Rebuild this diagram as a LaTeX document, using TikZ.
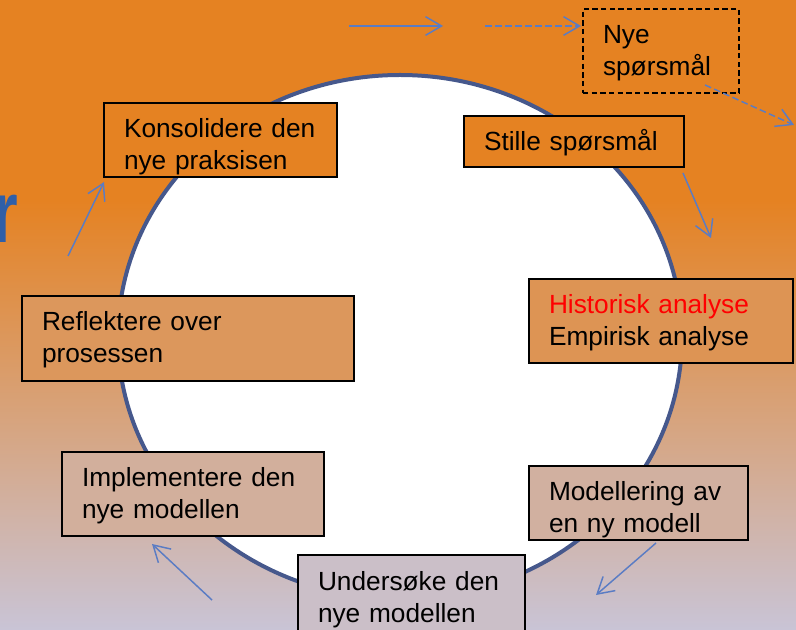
\documentclass[tikz,border=0pt]{standalone}
\usepackage{fontspec}
\usepackage{graphicx}
\setmainfont{Liberation Sans}
\usetikzlibrary{arrows.meta}

\definecolor{bgorange}{RGB}{229,130,34}
\definecolor{bglilac}{RGB}{201,196,214}
\definecolor{ringblue}{RGB}{70,88,140}
\definecolor{arrowblue}{RGB}{90,124,196}
\definecolor{titleblue}{RGB}{47,95,168}

\begin{document}
\begin{tikzpicture}[
                x=0.75pt, y=-0.75pt,
                >={Straight Barb[length=12pt,width=14pt]},
                phase/.style={draw, line width=1.5pt, inner xsep=15pt, inner ysep=0pt,
                    align=left, font=\fontsize{19.7}{24}\selectfont,
                    execute at begin node={\rule{0pt}{26.25pt}},
                    execute at end node={\rule[-#1]{0pt}{#1}}},
                flow/.style={->, arrowblue, line width=1.1pt}
                ]

                \clip (0,0) rectangle (796,630);
                % background
                \fill[bgorange] (0,0) rectangle (796,201);
                \shade[top color=bgorange, bottom color=bglilac] (0,200) rectangle (796,630);
                \node [anchor=base east, inner sep=0pt, text=titleblue, font=\fontsize{66}{66}\bfseries] (tail) at (18,243) {\scalebox{0.75}[1]{r}};

                % the cycle
                \draw[ringblue, line width=3pt, fill=white] (400,337) ellipse [x radius=282, y radius=262];

                \node [phase=12.75pt, dashed, dash pattern=on 4pt off 2.5pt, fill=bgorange, text width=87pt] (nye) at (661,51) {Nye\\spørsmål};
                \node [phase=12pt, fill=bgorange, text width=135pt] (stille) at (574,141.5) {Stille spørsmål};
                \node [phase=12.75pt, fill=bglilac!28!bgorange, text width=168pt] (analyse) at (661,321) {\textcolor{red}{Historisk analyse}\\Empirisk analyse};
                \node [phase=5.25pt, fill=bglilac!70!bgorange, text width=134.25pt] (modell) at (638.5,503) {Modellering av\\en ny modell};
                \node [phase=7.5pt, fill=bglilac!92!bgorange, text width=140.25pt] (undersoke) at (411.5,593.5) {Undersøke den\\nye modellen};
                \node [phase=12.75pt, fill=bglilac!68!bgorange, text width=166.5pt] (implement) at (193,494) {Implementere den\\nye modellen};
                \node [phase=13.5pt, fill=bglilac!32!bgorange, text width=219pt] (reflekt) at (188,338.5) {Reflektere over\\prosessen};
                \node [phase=5.25pt, fill=bgorange, text width=144.75pt] (konsolid) at (220.5,140) {Konsolidere den\\nye praksisen};

                % arrow ends
                \coordinate (topA) at (349,26);
                \coordinate (topB) at (443,26);
                \coordinate (dashA) at (485,26);
                \coordinate (dashB) at (581,26);
                \coordinate (nyeOut) at (705,85);
                \coordinate (nyeEnd) at (794,125);
                \coordinate (stilleOut) at (683,173);
                \coordinate (stilleEnd) at (711,238);
                \coordinate (modellOut) at (656,543);
                \coordinate (modellEnd) at (596,595);
                \coordinate (implStart) at (212,600);
                \coordinate (implEnd) at (152,544);
                \coordinate (konsStart) at (68,256);
                \coordinate (konsEnd) at (104,182);

                \draw[flow] (topA) -- (topB);
                \draw[flow, dash pattern=on 5pt off 2.5pt] (dashA) -- (dashB);
                \draw[flow, dash pattern=on 5pt off 2.5pt] (nyeOut) -- (nyeEnd);
                \draw[flow] (stilleOut) -- (stilleEnd);
                \draw[flow] (modellOut) -- (modellEnd);
                \draw[flow] (implStart) -- (implEnd);
                \draw[flow] (konsStart) -- (konsEnd);
            \end{tikzpicture}
\end{document}
